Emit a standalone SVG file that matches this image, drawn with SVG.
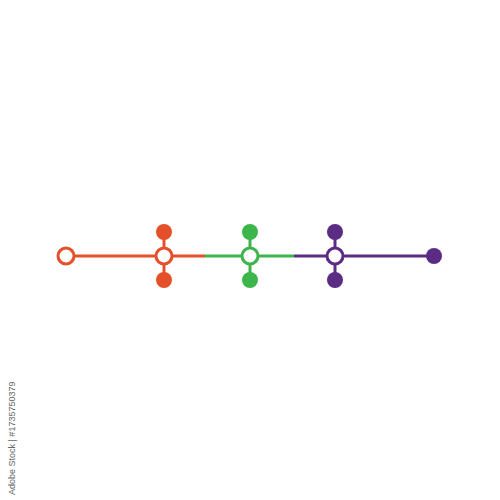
<svg xmlns="http://www.w3.org/2000/svg" width="500" height="500" viewBox="0 0 500 500">
<style>
.ln{stroke-width:3;fill:none}
.o{stroke:#E4502A}.g{stroke:#3DB54A}.p{stroke:#5B2C83}
.ring{fill:#fff;stroke-width:3}
.wm{font-family:"Liberation Sans",Arial,sans-serif;font-size:9px;fill:#666}
</style>
<rect width="500" height="500" fill="#fff"/>
<g id="connectors">
<line class="ln o" x1="74" y1="256" x2="205" y2="256"/>
<line class="ln g" x1="205" y1="256" x2="294" y2="256"/>
<line class="ln p" x1="294" y1="256" x2="434" y2="256"/>
<line class="ln o" x1="164" y1="232" x2="164" y2="280"/>
<line class="ln g" x1="250" y1="232" x2="250" y2="280"/>
<line class="ln p" x1="335" y1="232" x2="335" y2="280"/>
</g>
<g id="start"><circle class="ring o" cx="66" cy="256" r="8"/></g>
<g id="node-orange">
<circle cx="164" cy="232" r="8" fill="#E4502A"/>
<circle cx="164" cy="280" r="8" fill="#E4502A"/>
<circle class="ring o" cx="164" cy="256" r="8"/>
</g>
<g id="node-green">
<circle cx="250" cy="232" r="8" fill="#3DB54A"/>
<circle cx="250" cy="280" r="8" fill="#3DB54A"/>
<circle class="ring g" cx="250" cy="256" r="8"/>
</g>
<g id="node-purple">
<circle cx="335" cy="232" r="8" fill="#5B2C83"/>
<circle cx="335" cy="280" r="8" fill="#5B2C83"/>
<circle class="ring p" cx="335" cy="256" r="8"/>
</g>
<g id="end"><circle cx="434" cy="256" r="8" fill="#5B2C83"/></g>
<text class="wm" transform="translate(15,495) rotate(-90)">Adobe Stock | #1735750379</text>
</svg>
